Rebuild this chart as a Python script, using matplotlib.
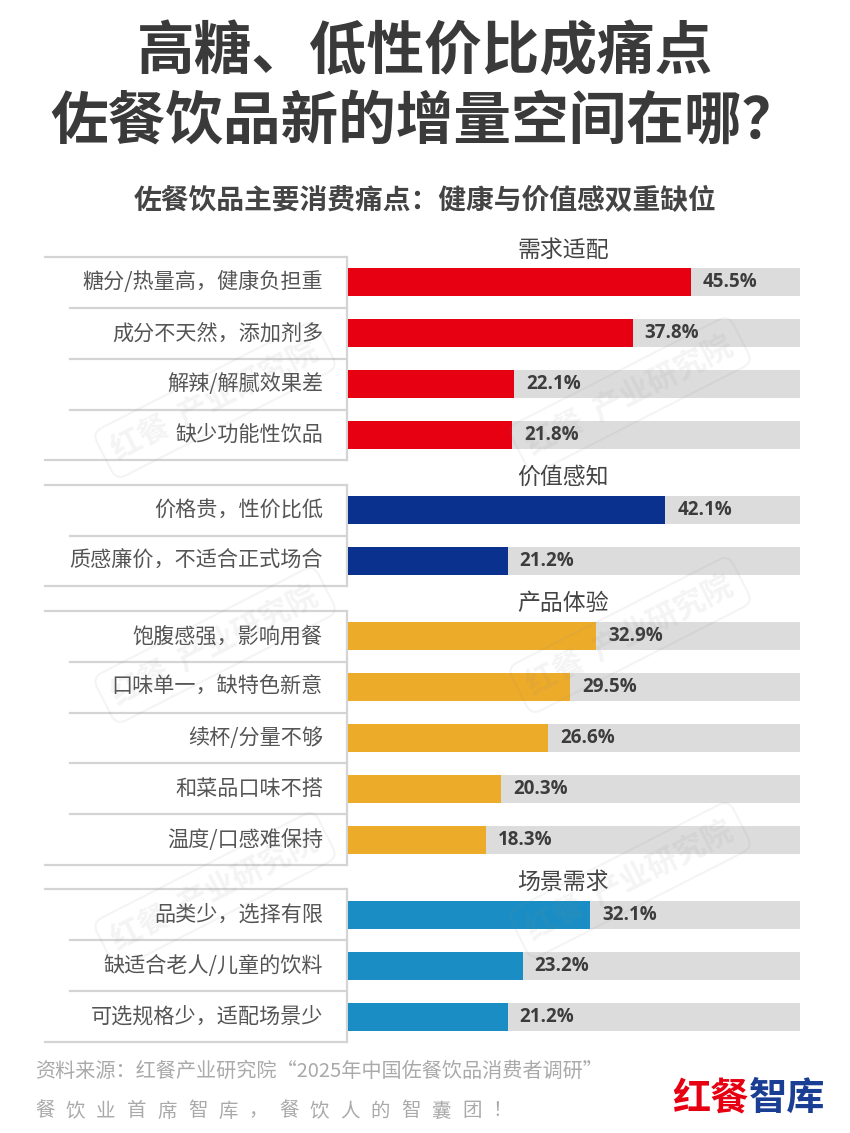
import matplotlib
matplotlib.use("Agg")
import matplotlib.pyplot as plt
from matplotlib.transforms import blended_transform_factory

plt.rcParams['font.family'] = ['Noto Sans CJK SC', 'DejaVu Sans']

# 数据
group_names = ['需求适配', '价值感知', '产品体验', '场景需求']
labels_demand = ['糖分/热量高，健康负担重', '成分不天然，添加剂多', '解辣/解腻效果差', '缺少功能性饮品']
values_demand = [45.5, 37.8, 22.1, 21.8]
labels_value = ['价格贵，性价比低', '质感廉价，不适合正式场合']
values_value = [42.1, 21.2]
labels_product = ['饱腹感强，影响用餐', '口味单一，缺特色新意', '续杯/分量不够', '和菜品口味不搭', '温度/口感难保持']
values_product = [32.9, 29.5, 26.6, 20.3, 18.3]
labels_scene = ['品类少，选择有限', '缺适合老人/儿童的饮料', '可选规格少，适配场景少']
values_scene = [32.1, 23.2, 21.2]
group_colors = ['#E60012', '#0B318F', '#EDAB2A', '#1A8EC4']
track_max = 60

groups = [(group_names[0], labels_demand, values_demand),
          (group_names[1], labels_value, values_value),
          (group_names[2], labels_product, values_product),
          (group_names[3], labels_scene, values_scene)]

W, H = 850, 1133
fig = plt.figure(figsize=(W / 100, H / 100), dpi=100)

def fx(px):
    return px / W

def fy(py):
    return 1 - py / H

gap = 0.48
total = sum(len(g[1]) for g in groups) + gap * (len(groups) - 1)

ax = fig.add_axes([fx(348), fy(1042), fx(800) - fx(348), fy(257) - fy(1042)])
ax.set_xlim(0, track_max)
ax.set_ylim(total, 0)
ax.axis('off')

tr = blended_transform_factory(fig.transFigure, ax.transData)
line_c = '#d4d4d4'
bar_h = 0.55

top = 0
for gi, (gname, labels, values) in enumerate(groups):
    n = len(labels)
    bottom = top + n
    # 左侧框线
    ax.plot([fx(45), fx(347)], [top, top], color=line_c, lw=1.6, transform=tr, clip_on=False)
    ax.plot([fx(45), fx(347)], [bottom, bottom], color=line_c, lw=1.6, transform=tr, clip_on=False)
    ax.plot([fx(347), fx(347)], [top, bottom], color=line_c, lw=1.6, transform=tr, clip_on=False)
    for k in range(1, n):
        ax.plot([fx(70), fx(347)], [top + k, top + k], color=line_c, lw=1.6, transform=tr, clip_on=False)

    ys = [top + k + 0.5 for k in range(n)]
    ax.barh(ys, [track_max] * n, height=bar_h, color='#DCDCDC', zorder=1)
    ax.barh(ys, values, height=bar_h, color=group_colors[gi], zorder=2)
    for y, lab, v in zip(ys, labels, values):
        ax.text(fx(323), y, lab, transform=tr, ha='right', va='center',
                fontsize=15.2, color='#555555')
        ax.annotate(f'{v}%', (v, y), xytext=(12, 0), textcoords='offset pixels',
                    ha='left', va='center', fontsize=13.5, fontweight='bold',
                    color='#3c3c3c', family=['Open Sans', 'DejaVu Sans'], zorder=3)
    ax.text(fx(563), top - 0.14, gname, transform=tr, ha='center', va='center',
            fontsize=16.5, color='#444444', fontweight='medium')
    top = bottom + gap

# 标题
fig.text(0.5, fy(52), '高糖、低性价比成痛点', ha='center', va='center',
         fontsize=41.5, fontweight='bold', color='#3a3a3a')
fig.text(0.5, fy(122), '佐餐饮品新的增量空间在哪？', ha='center', va='center',
         fontsize=41.5, fontweight='bold', color='#3a3a3a')
fig.text(fx(425), fy(201), '佐餐饮品主要消费痛点：健康与价值感双重缺位', ha='center', va='center',
         fontsize=20, fontweight='bold', color='#444444')

# 水印
for cx, cy in [(215, 400), (630, 395), (215, 645), (630, 635), (215, 890), (630, 880)]:
    fig.text(fx(cx), fy(cy), '红餐  产业研究院', rotation=27, ha='center', va='center',
             fontsize=22, fontweight='bold', color='#888888', alpha=0.09, zorder=10,
             bbox=dict(boxstyle='round,pad=0.35', fc='none', ec='#888888', lw=1.5, alpha=0.09))

# 底部
fig.text(fx(35), fy(1071), '资料来源：红餐产业研究院“2025年中国佐餐饮品消费者调研”',
         ha='left', va='center', fontsize=14.5, color='#aaaaaa')
slogan = '餐饮业首席智库，餐饮人的智囊团！'
for i, ch in enumerate(slogan):
    fig.text(fx(45 + i * 30.5), fy(1111), ch, ha='center', va='center',
             fontsize=14, color='#aaaaaa')
fig.text(fx(749), fy(1098), '红餐', ha='right', va='center', fontsize=27.5,
         fontweight='heavy', color='#E60012')
fig.text(fx(749), fy(1098), '智库', ha='left', va='center', fontsize=27.5,
         fontweight='heavy', color='#1A3E94')

fig.savefig('out.png', dpi=100, facecolor='white')
